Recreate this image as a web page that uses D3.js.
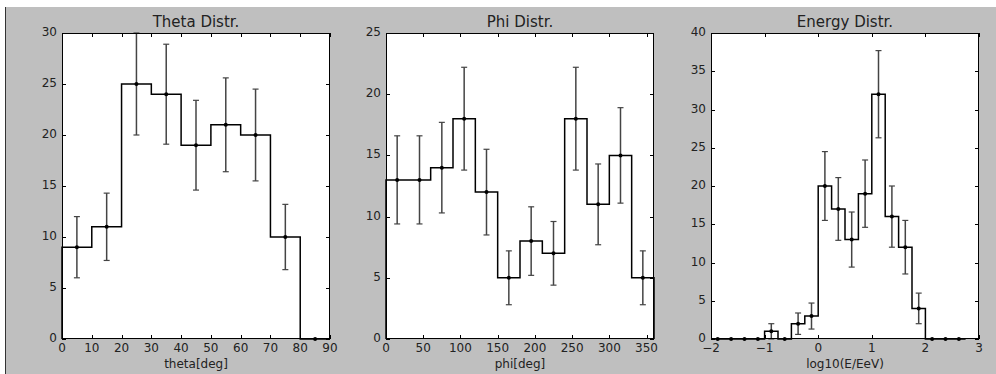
<!DOCTYPE html>
<html>
<head>
<meta charset="utf-8">
<script src="https://cdn.jsdelivr.net/npm/d3@7"></script>
<style>
  body { margin: 0; background: #ffffff; }
  svg { display: block; font-family: "DejaVu Sans", sans-serif; }
</style>
</head>
<body>
<svg id="canvas" width="996" height="374"></svg>
<script>
// theta histogram
let thetaEdges = [0, 10, 20, 30, 40, 50, 60, 70, 80, 90]
let thetaCounts = [9, 11, 25, 24, 19, 21, 20, 10, 0]
let thetaErr = [3.0, 3.3, 5.0, 4.9, 4.4, 4.6, 4.5, 3.2, 0]
let thetaXTicks = [0, 10, 20, 30, 40, 50, 60, 70, 80, 90]
let thetaYTicks = [0, 5, 10, 15, 20, 25, 30]

// phi histogram
let phiEdges = [0, 30, 60, 90, 120, 150, 180, 210, 240, 270, 300, 330, 360]
let phiCounts = [13, 13, 14, 18, 12, 5, 8, 7, 18, 11, 15, 5]
let phiErr = [3.6, 3.6, 3.7, 4.2, 3.5, 2.2, 2.8, 2.6, 4.2, 3.3, 3.9, 2.2]
let phiXTicks = [0, 50, 100, 150, 200, 250, 300, 350]
let phiYTicks = [0, 5, 10, 15, 20, 25]

// energy histogram
let energyEdges = [-2, -1.75, -1.5, -1.25, -1, -0.75, -0.5, -0.25, 0, 0.25, 0.5, 0.75, 1, 1.25, 1.5, 1.75, 2, 2.25, 2.5, 2.75]
let energyCounts = [0, 0, 0, 0, 1, 0, 2, 3, 20, 17, 13, 19, 32, 16, 12, 4, 0, 0, 0]
let energyErr = [0, 0, 0, 0, 1, 0, 1.4, 1.7, 4.5, 4.1, 3.6, 4.4, 5.7, 4.0, 3.5, 2.0, 0, 0, 0]
let energyXTicks = [-2, -1, 0, 1, 2, 3]
let energyYTicks = [0, 5, 10, 15, 20, 25, 30, 35, 40]

let canvas = d3.select("#canvas")

// figure background
canvas.append("rect")
    .attr("x", 6).attr("y", 7)
    .attr("width", 990).attr("height", 367)
    .attr("fill", "#bfbfbf")
canvas.append("line")
    .attr("x1", 5.5).attr("x2", 5.5)
    .attr("y1", 7).attr("y2", 374)
    .attr("stroke", "#333").attr("stroke-width", 1)

let plotTop = 33
let plotBottom = 339

let fmt = (d) => String(d).replace("-", "\u2212")

let drawPanel = (opts) => {
    let x = d3.scaleLinear().domain(opts.xDomain).range([opts.left, opts.right])
    let y = d3.scaleLinear().domain(opts.yDomain).range([plotBottom, plotTop])

    let g = canvas.append("g")

    g.append("rect")
        .attr("x", opts.left).attr("y", plotTop)
        .attr("width", opts.right - opts.left)
        .attr("height", plotBottom - plotTop)
        .attr("fill", "#ffffff")

    // step outline
    let pts = [[opts.edges[0], 0]]
    opts.counts.forEach((c, i) => {
        pts.push([opts.edges[i], c])
        pts.push([opts.edges[i + 1], c])
    })
    pts.push([opts.edges[opts.edges.length - 1], 0])

    g.append("path")
        .datum(pts)
        .attr("d", d3.line().x(d => x(d[0])).y(d => y(d[1])))
        .attr("fill", "none")
        .attr("stroke", "#000")
        .attr("stroke-width", 1.5)

    let centers = opts.counts.map((c, i) => (opts.edges[i] + opts.edges[i + 1]) / 2)

    // error bars and markers
    opts.counts.forEach((c, i) => {
        let e = opts.err[i]
        let cx = x(centers[i])
        if (e > 0) {
            g.append("line")
                .attr("x1", cx).attr("x2", cx)
                .attr("y1", y(c - e)).attr("y2", y(c + e))
                .attr("stroke", "#444").attr("stroke-width", 1.5)
            ;[c - e, c + e].forEach((v) => {
                g.append("line")
                    .attr("x1", cx - 3).attr("x2", cx + 3)
                    .attr("y1", y(v)).attr("y2", y(v))
                    .attr("stroke", "#444").attr("stroke-width", 1.2)
            })
        }
        g.append("circle")
            .attr("cx", cx).attr("cy", y(c))
            .attr("r", 2)
            .attr("fill", "#000")
    })

    // frame
    g.append("rect")
        .attr("x", opts.left + 0.5).attr("y", plotTop + 0.5)
        .attr("width", opts.right - opts.left - 1)
        .attr("height", plotBottom - plotTop - 1)
        .attr("fill", "none")
        .attr("stroke", "#000")
        .attr("stroke-width", 1)

    // inward ticks on all sides
    let tl = 4
    opts.xTicks.forEach((t) => {
        let px = Math.round(x(t)) + 0.5
        g.append("line").attr("x1", px).attr("x2", px).attr("y1", plotBottom).attr("y2", plotBottom - tl).attr("stroke", "#000")
        g.append("line").attr("x1", px).attr("x2", px).attr("y1", plotTop).attr("y2", plotTop + tl).attr("stroke", "#000")
        g.append("text")
            .attr("x", x(t)).attr("y", 352)
            .attr("text-anchor", "middle")
            .attr("font-size", "12px")
            .attr("fill", "#222")
            .text(fmt(t))
    })
    opts.yTicks.forEach((t) => {
        let py = Math.round(y(t)) + 0.5
        g.append("line").attr("x1", opts.left).attr("x2", opts.left + tl).attr("y1", py).attr("y2", py).attr("stroke", "#000")
        g.append("line").attr("x1", opts.right).attr("x2", opts.right - tl).attr("y1", py).attr("y2", py).attr("stroke", "#000")
        g.append("text")
            .attr("x", opts.left - 5).attr("y", y(t) + 3)
            .attr("text-anchor", "end")
            .attr("font-size", "12px")
            .attr("fill", "#222")
            .text(fmt(t))
    })

    g.append("text")
        .attr("x", (opts.left + opts.right) / 2).attr("y", 27)
        .attr("text-anchor", "middle")
        .attr("font-size", "15px")
        .attr("fill", "#222")
        .text(opts.title)

    g.append("text")
        .attr("x", (opts.left + opts.right) / 2).attr("y", 368)
        .attr("text-anchor", "middle")
        .attr("font-size", "12px")
        .attr("fill", "#222")
        .text(opts.xLabel)
}

drawPanel({
    left: 62, right: 330,
    xDomain: [0, 90], yDomain: [0, 30],
    edges: thetaEdges, counts: thetaCounts, err: thetaErr,
    xTicks: thetaXTicks, yTicks: thetaYTicks,
    title: "Theta Distr.", xLabel: "theta[deg]"
})

drawPanel({
    left: 386, right: 654,
    xDomain: [0, 360], yDomain: [0, 25],
    edges: phiEdges, counts: phiCounts, err: phiErr,
    xTicks: phiXTicks, yTicks: phiYTicks,
    title: "Phi Distr.", xLabel: "phi[deg]"
})

drawPanel({
    left: 711, right: 979,
    xDomain: [-2, 3], yDomain: [0, 40],
    edges: energyEdges, counts: energyCounts, err: energyErr,
    xTicks: energyXTicks, yTicks: energyYTicks,
    title: "Energy Distr.", xLabel: "log10(E/EeV)"
})
</script>
</body>
</html>
